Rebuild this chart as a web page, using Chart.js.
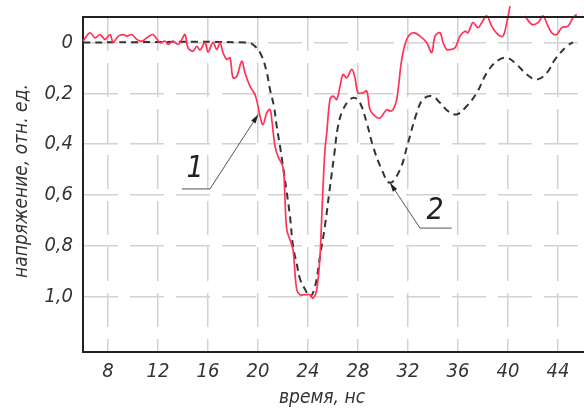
<!DOCTYPE html>
<html>
<head>
<meta charset="utf-8">
<script src="https://cdn.jsdelivr.net/npm/chart.js@4"></script>
<style>
html,body{margin:0;padding:0;background:#fff;}
#wrap{width:584px;height:411px;position:relative;}
</style>
</head>
<body>
<div id="wrap"><canvas id="c" width="584" height="411"></canvas></div>
<script>
// ---- data ----
const xTicks = [8, 12, 16, 20, 24, 28, 32, 36, 40, 44];
const yTicks = [0, 0.2, 0.4, 0.6, 0.8, 1.0];
const xLabel = 'время, нс';
const yLabel = 'напряжение, отн. ед.';
const seriesNames = ['1', '2'];

// series 1 (measured, red)
const redT = [6.0,6.56,6.96,7.36,7.76,8.16,8.42,8.82,9.22,9.5,9.9,10.3,10.7,11.1,11.6,12.16,12.56,12.8,13.2,13.6,13.9,14.16,14.4,14.8,15.1,15.36,15.76,16.0,16.4,16.7,16.96,17.2,17.5,17.76,18.0,18.3,18.7,18.96,19.36,19.76,20.0,20.16,20.4,20.7,20.96,21.1,21.36,21.6,22.0,22.16,22.3,22.56,22.8,22.9,23.1,23.36,23.76,24.16,24.4,24.7,24.96,25.1,25.2,25.36,25.5,25.76,26.0,26.3,26.56,26.8,27.1,27.5,27.76,28.0,28.4,28.7,28.96,29.36,29.76,30.3,30.56,30.8,31.1,31.5,31.9,32.4,32.96,33.5,33.9,34.16,34.56,34.8,35.1,35.36,35.76,36.16,36.56,36.8,37.2,37.6,37.9,38.3,38.7,39.2,39.6,39.9,40.16,40.7,41.36,41.9,42.4,42.8,43.2,43.5,43.9,44.3,44.8,45.2,45.5];
const redV = [-0.005,-0.038,-0.018,-0.031,-0.012,-0.031,0.0,-0.025,-0.031,-0.025,-0.031,-0.012,-0.005,-0.018,-0.031,0.001,-0.005,0.008,-0.005,0.008,-0.012,-0.031,0.021,0.034,0.015,0.03,0.001,0.038,0.0,0.028,0.001,0.04,0.067,0.06,0.139,0.133,0.074,0.119,0.172,0.205,0.25,0.29,0.323,0.277,0.264,0.303,0.408,0.448,0.49,0.618,0.736,0.776,0.815,0.867,0.972,0.992,0.992,0.992,1.005,0.972,0.84,0.684,0.57,0.42,0.356,0.224,0.211,0.224,0.172,0.126,0.139,0.106,0.139,0.198,0.198,0.191,0.264,0.29,0.297,0.264,0.27,0.264,0.224,0.067,-0.012,-0.038,-0.025,0.001,0.04,-0.025,-0.038,0.0,0.028,0.028,0.021,-0.025,-0.044,-0.038,-0.078,-0.058,-0.078,-0.104,-0.064,-0.031,-0.025,-0.078,-0.143,null,-0.104,-0.071,-0.078,-0.104,-0.064,-0.038,-0.031,-0.058,-0.064,-0.097,-0.11];

// series 2 (calculated, dashed)
const dashT = [6,19.1,19.76,20.3,20.7,20.96,21.28,21.5,21.76,21.98,22.3,22.56,22.8,23.1,23.36,23.76,24.16,24.56,24.96,25.36,25.7,26.1,26.4,26.8,27.36,27.76,28.16,28.7,29.2,29.9,30.56,31.36,32.0,32.7,33.2,33.9,34.56,35.2,35.9,36.7,37.5,38.3,39.1,39.9,40.7,41.5,42.3,43.1,43.76,44.7,45.2];
const dashV = [0,0,0.015,0.054,0.118,0.185,0.252,0.33,0.408,0.48,0.59,0.684,0.80,0.87,0.93,0.97,0.999,0.96,0.84,0.72,0.59,0.44,0.33,0.264,0.224,0.218,0.237,0.316,0.408,0.5,0.552,0.5,0.395,0.277,0.224,0.211,0.237,0.27,0.283,0.25,0.198,0.12,0.074,0.06,0.087,0.126,0.146,0.12,0.067,0.015,0.0];

// leader callouts in data units: [tip, knee, end], label position
const callout1 = {pts: [[20.02, 0.283], [16.16, 0.576], [13.9, 0.576]], label: [14.96, 0.5]};
const callout2 = {pts: [[30.56, 0.552], [32.96, 0.73], [35.5, 0.73]], label: [34.16, 0.665]};
const callouts = [callout1, callout2];

// ---- chart ----
const FONT = "'Liberation Sans Narrow', 'DejaVu Sans Condensed', 'Roboto', sans-serif";
const toXY = (T, V) => T.map((t, i) => ({x: t, y: V[i]}));

const decor = {
  id: 'decor',
  afterDatasetsDraw(chart) {
    const {ctx, chartArea: a, scales: {x, y}} = chart;
    ctx.save();
    // top border
    ctx.strokeStyle = '#222';
    ctx.lineWidth = 2;
    ctx.beginPath();
    ctx.moveTo(a.left, a.top);
    ctx.lineTo(a.right, a.top);
    ctx.stroke();
    // callouts
    callouts.forEach((c, idx) => {
      const p = c.pts.map(q => [x.getPixelForValue(q[0]), y.getPixelForValue(q[1])]);
      ctx.strokeStyle = '#555';
      ctx.lineWidth = 1;
      ctx.beginPath();
      ctx.moveTo(p[0][0], p[0][1]);
      for (let i = 1; i < p.length; i++) ctx.lineTo(p[i][0], p[i][1]);
      ctx.stroke();
      // arrowhead at tip
      const dx = p[0][0] - p[1][0], dy = p[0][1] - p[1][1];
      const L = Math.hypot(dx, dy), ux = dx / L, uy = dy / L;
      const al = 9, aw = 2.6;
      ctx.fillStyle = '#222';
      ctx.beginPath();
      ctx.moveTo(p[0][0], p[0][1]);
      ctx.lineTo(p[0][0] - ux * al - uy * aw, p[0][1] - uy * al + ux * aw);
      ctx.lineTo(p[0][0] - ux * al + uy * aw, p[0][1] - uy * al - ux * aw);
      ctx.closePath();
      ctx.fill();
      // label
      ctx.fillStyle = '#222';
      ctx.font = 'italic 30px ' + FONT;
      ctx.textAlign = 'center';
      ctx.textBaseline = 'middle';
      ctx.fillText(seriesNames[idx], x.getPixelForValue(c.label[0]), y.getPixelForValue(c.label[1]));
    });
    // axis titles
    ctx.fillStyle = '#333';
    ctx.font = 'italic 19px ' + FONT;
    ctx.textAlign = 'center';
    ctx.textBaseline = 'middle';
    ctx.fillText(xLabel, 322, 398);
    ctx.save();
    ctx.translate(22, 181);
    ctx.rotate(-Math.PI / 2);
    ctx.fillText(yLabel, 0, 0);
    ctx.restore();
    ctx.restore();
  }
};

new Chart(document.getElementById('c'), {
  type: 'line',
  data: {
    datasets: [
      {
        label: seriesNames[0],
        data: toXY(redT, redV),
        borderColor: '#ff3355',
        borderWidth: 1.7,
        pointRadius: 0,
        tension: 0.35,
        spanGaps: false,
        clip: false,
        fill: false
      },
      {
        label: seriesNames[1],
        data: toXY(dashT, dashV),
        borderColor: '#333',
        borderWidth: 2,
        borderDash: [7, 5],
        pointRadius: 0,
        tension: 0.4,
        fill: false
      }
    ]
  },
  options: {
    responsive: false,
    animation: false,
    devicePixelRatio: 1,
    layout: {padding: {top: 17, right: 0, left: 0, bottom: 0}},
    plugins: {legend: {display: false}, tooltip: {enabled: false}},
    scales: {
      x: {
        type: 'linear',
        min: 6,
        max: 46.08,
        afterBuildTicks: s => { s.ticks = xTicks.map(v => ({value: v})); },
        afterFit: s => { s.height = 59; s.paddingLeft = 0; s.paddingRight = 0; },
        ticks: {
          color: '#333',
          font: {family: FONT, size: 20, style: 'italic'},
          padding: 8,
          maxRotation: 0,
          callback: v => String(v)
        },
        grid: {color: '#d2d2d2', lineWidth: 1.5, drawTicks: false},
        border: {display: true, color: '#222', width: 2, dash: [34, 12]}
      },
      y: {
        type: 'linear',
        reverse: true,
        min: -0.1,
        max: 1.217,
        afterBuildTicks: s => { s.ticks = yTicks.map(v => ({value: v})); },
        afterFit: s => { s.width = 83; s.paddingTop = 0; s.paddingBottom = 0; },
        ticks: {
          color: '#333',
          font: {family: FONT, size: 20, style: 'italic'},
          padding: 10,
          callback: v => v === 0 ? '0' : v.toFixed(1).replace('.', ',')
        },
        grid: {color: '#d2d2d2', lineWidth: 1.5, drawTicks: false},
        border: {display: true, color: '#222', width: 2, dash: [34, 12]}
      }
    }
  },
  plugins: [decor]
});
</script>
</body>
</html>
